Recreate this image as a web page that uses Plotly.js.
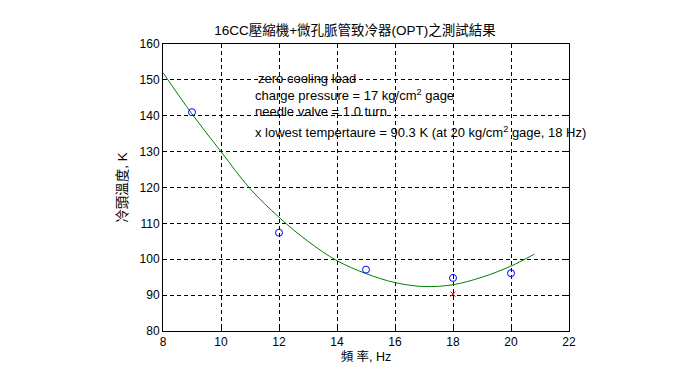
<!DOCTYPE html>
<html>
<head>
<meta charset="utf-8">
<script src="https://cdn.plot.ly/plotly-3.0.1.min.js"></script>
<style>html,body{margin:0;padding:0;background:#fff;}#chart{width:696px;height:388px;}</style>
</head>
<body>
<div id="chart"></div>
<script>
// Measured points
const freqHz = [9, 12, 15, 18, 20];
const tempK = [141, 107.4, 97.1, 94.8, 96.1];
// Fitted curve
const fitFreq = [8, 9, 10, 11, 12, 13, 14, 15, 16, 17, 18, 19, 20, 20.8];
const fitTemp = [152, 140.5, 130, 119.7, 111.7, 105, 99.6, 96, 93.5, 92.4, 92.9, 95, 98.1, 101.4];
// Lowest temperature mark
const lowFreq = [18];
const lowTemp = [90.3];
// Axis ticks
const xTicks = [8, 10, 12, 14, 16, 18, 20, 22];
const yTicks = [80, 90, 100, 110, 120, 130, 140, 150, 160];
// Texts
const titleText = '16CC壓縮機+微孔脈管致冷器(OPT)之測試結果';
const xLabel = '頻 率, Hz';
const yLabel = '冷頭溫度, K';
const noteLines = [
  'zero cooling load',
  'charge pressure = 17 kg/cm<sup>2</sup> gage',
  'needle valve = 1.0 turn',
  'x lowest tempertaure = 90.3 K (at 20 kg/cm<sup>2</sup> gage, 18 Hz)'
];
const noteY = [150.5, 145.7, 141.1, 135.5];
const noteX = [11.2, 11.12, 11.12, 11.1];

const FONT = 'Arial, "Liberation Sans", "Noto Sans CJK TC", sans-serif';

const traces = [
  {x: fitFreq, y: fitTemp, mode: 'lines', type: 'scatter',
   line: {color: '#008000', width: 1, shape: 'spline'}, hoverinfo: 'skip'},
  {x: freqHz, y: tempK, mode: 'markers', type: 'scatter',
   marker: {symbol: 'circle-open', size: 7, color: '#0000ff', line: {width: 1, color: '#0000ff'}}},
  {x: lowFreq, y: lowTemp, mode: 'markers', type: 'scatter',
   marker: {symbol: 'x-thin-open', size: 5, color: '#ff0000', line: {width: 1, color: '#ff0000'}}}
];

const axisCommon = {
  showline: true, mirror: 'ticks', linecolor: '#000', linewidth: 1,
  ticks: 'inside', ticklen: 4, tickcolor: '#000', tickwidth: 1,
  showgrid: true, gridcolor: '#000', gridwidth: 1, griddash: '4px,3px',
  zeroline: false, tickfont: {family: FONT, size: 12, color: '#000'},
  automargin: false, fixedrange: true
};

const layout = {
  width: 696, height: 388,
  margin: {l: 163, r: 127, t: 44, b: 57},
  paper_bgcolor: '#fff', plot_bgcolor: '#fff',
  showlegend: false,
  font: {family: FONT, size: 12, color: '#000'},
  title: {text: titleText, font: {family: FONT, size: 13.5, color: '#000'},
          x: 355 / 696, xref: 'container', xanchor: 'center',
          y: 1 - 30 / 388, yref: 'container', yanchor: 'middle'},
  xaxis: Object.assign({}, axisCommon, {
    range: [8, 22], tickmode: 'array', tickvals: xTicks, ticktext: xTicks.map(String),
    title: {text: xLabel, font: {family: FONT, size: 12.5, color: '#000'}, standoff: 2}
  }),
  yaxis: Object.assign({}, axisCommon, {
    range: [80, 160], tickmode: 'array', tickvals: yTicks, ticktext: yTicks.map(String),
    title: {text: yLabel, font: {family: FONT, size: 13.5, color: '#000'}, standoff: 8}
  }),
  annotations: noteLines.map((t, i) => ({
    text: t, x: noteX[i], y: noteY[i], xref: 'x', yref: 'y',
    xanchor: 'left', yanchor: 'middle', showarrow: false,
    font: {family: FONT, size: 13, color: '#000'}
  }))
};

Plotly.newPlot('chart', traces, layout, {staticPlot: true, displayModeBar: false});
</script>
</body>
</html>
